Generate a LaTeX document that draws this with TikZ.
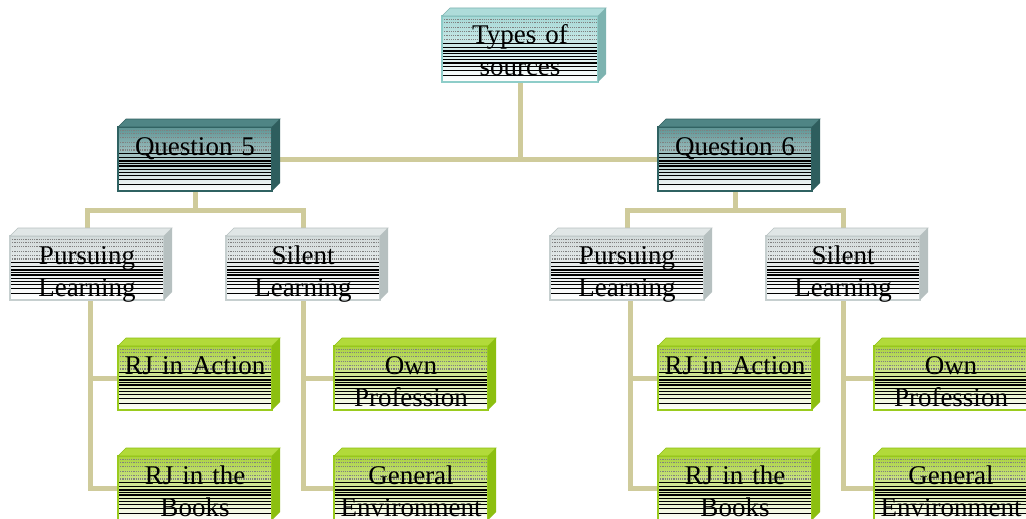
\documentclass[tikz,border=0pt]{standalone}
\usepackage{fontspec}
\setmainfont{Liberation Serif}
\usetikzlibrary{calc}
\pgfdeclarelayer{background}
\pgfsetlayers{background,main}
\definecolor{conn}{HTML}{CFCB9B}
\definecolor{tface}{HTML}{A6D8D6}
\definecolor{tborder}{HTML}{8ECDC9}
\definecolor{ttop}{HTML}{AEDCDA}
\definecolor{tright}{HTML}{7DB3B0}
\definecolor{qface}{HTML}{5E9494}
\definecolor{qborder}{HTML}{2F6262}
\definecolor{qtop}{HTML}{4F8585}
\definecolor{qright}{HTML}{2E5E5E}
\definecolor{lface}{HTML}{D2DADA}
\definecolor{lborder}{HTML}{C6CFCF}
\definecolor{ltop}{HTML}{E0E6E6}
\definecolor{lright}{HTML}{B6C0C0}
\definecolor{gface}{HTML}{AAD23E}
\definecolor{gborder}{HTML}{9ACB1E}
\definecolor{gtop}{HTML}{B2DA3A}
\definecolor{gright}{HTML}{8CBF10}
\newcommand\mybevel[3]{%
  \fill[#2,draw=#3,line width=0.6pt] (#1.north west) -- ++(8,-8) -- ($(#1.north east)+(8,-8)$) -- (#1.north east) -- cycle;
  \fill[#3] (#1.north east) -- ++(8,-8) -- ($(#1.south east)+(8,-8)$) -- (#1.south east) -- cycle;}
\tikzset{
  stripes/.style={path picture={
    \fill[top color=#1, bottom color=white] (path picture bounding box.north west) rectangle (path picture bounding box.south east);
    \foreach \f in {0.05,0.1,0.17,0.24,0.3,0.36}
      \draw[gray, densely dotted, line width=1.2pt] ($(path picture bounding box.north west)!\f!(path picture bounding box.south west)$) -- ($(path picture bounding box.north east)!\f!(path picture bounding box.south east)$);
    \foreach \f/\w in {0.42/0.8,0.48/1.5,0.53/1.5,0.57/1.2,0.61/1.5,0.66/1,0.71/1.5,0.76/1,0.82/1.2,0.9/1}
      \draw[black, line width=\w pt] ($(path picture bounding box.north west)!\f!(path picture bounding box.south west)$) -- ($(path picture bounding box.north east)!\f!(path picture bounding box.south east)$);
  }},
  boxbase/.style={line width=1.5pt, inner sep=0pt, outer sep=0pt, anchor=north west,
    minimum width=154pt, minimum height=64pt, text width=154pt, align=center,
    text height=28pt, text depth=36pt,
    font=\fontsize{27}{32}\selectfont},
  tbox/.style={boxbase, draw=tborder, stripes=tface, minimum width=156pt, text width=156pt,
    minimum height=66pt, text depth=38pt},
  qbox/.style={boxbase, draw=qborder, stripes=qface},
  lbox/.style={boxbase, draw=lborder, stripes=lface},
  gbox/.style={boxbase, draw=gborder, stripes=gface},
  conline/.style={draw=conn, line width=5pt}
}
\begin{document}
\begin{tikzpicture}[x=1pt,y=-1pt]
\useasboundingbox (0,0) rectangle (1026,519);
\clip (0,0) rectangle (1026,519);
% nodes
\node[tbox] (top) at (442,16) {Types of\\sources};
\node[qbox] (q5) at (118,127) {Question 5};
\node[qbox] (q6) at (658,127) {Question 6};
\node[lbox] (pl5) at (10,236) {Pursuing\\Learning};
\node[lbox] (sl5) at (226,236) {Silent\\Learning};
\node[lbox] (pl6) at (550,236) {Pursuing\\Learning};
\node[lbox] (sl6) at (766,236) {Silent\\Learning};
\node[gbox] (ra5) at (118,346) {RJ in Action};
\node[gbox] (rb5) at (118,456) {RJ in the\\Books};
\node[gbox] (op5) at (334,346) {Own\\Profession};
\node[gbox] (ge5) at (334,456) {General\\Environment};
\node[gbox] (ra6) at (658,346) {RJ in Action};
\node[gbox] (rb6) at (658,456) {RJ in the\\Books};
\node[gbox] (op6) at (874,346) {Own\\Profession};
\node[gbox] (ge6) at (874,456) {General\\Environment};
% bevels
\mybevel{top}{ttop}{tright}
\mybevel{q5}{qtop}{qright}
\mybevel{q6}{qtop}{qright}
\foreach \n in {pl5,sl5,pl6,sl6} {\mybevel{\n}{ltop}{lright}}
\foreach \n in {ra5,rb5,op5,ge5,ra6,rb6,op6,ge6} {\mybevel{\n}{gtop}{gright}}
% connectors (behind boxes)
\begin{pgfonlayer}{background}
\fill[white] (0,0) rectangle (1026,519);
\draw[conline] (q5.east) -- (q6.west);
\draw[conline] (top.south) -- (top.south |- q5.east);
\draw[conline] (q5.south) -- ++(0,19) coordinate (j5);
\draw[conline] (pl5.north) |- (j5) -| (sl5.north);
\draw[conline] (q6.south) -- ++(0,19) coordinate (j6);
\draw[conline] (pl6.north) |- (j6) -| (sl6.north);
\draw[conline] ([xshift=3pt]pl5.south) |- (ra5.west);
\draw[conline] ([xshift=3pt]pl5.south) |- (rb5.west);
\draw[conline] (sl5.south) |- (op5.west);
\draw[conline] (sl5.south) |- (ge5.west);
\draw[conline] ([xshift=3pt]pl6.south) |- (ra6.west);
\draw[conline] ([xshift=3pt]pl6.south) |- (rb6.west);
\draw[conline] (sl6.south) |- (op6.west);
\draw[conline] (sl6.south) |- (ge6.west);
\end{pgfonlayer}
\end{tikzpicture}
\end{document}
